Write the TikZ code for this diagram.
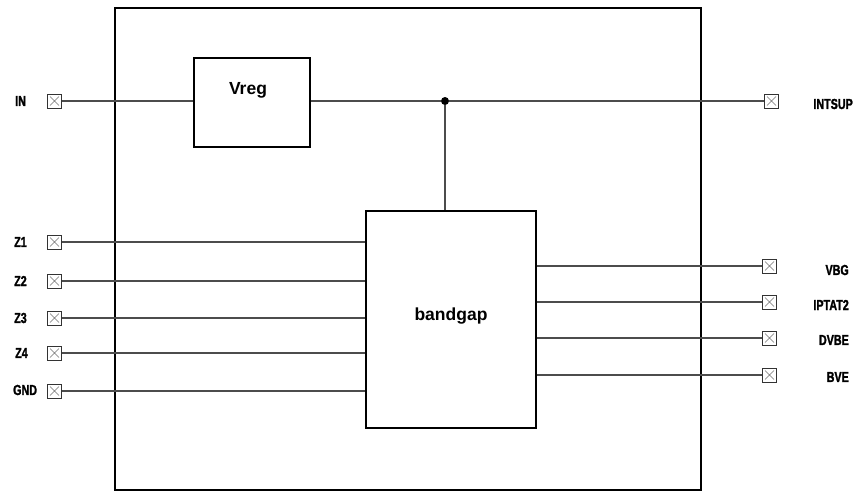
\documentclass[tikz,border=0pt]{standalone}
\usepackage{fontspec}
\setmainfont{Liberation Sans}
\newfontfamily\pinfont{Liberation Sans}[FakeStretch=0.74, BoldFeatures={FakeBold=1.6}]
\begin{document}
\begin{tikzpicture}[x=1pt,y=-1pt,
  wire/.style={draw=black!70, line width=1.1pt},
  blockbox/.style={draw=black, line width=1.1pt, fill=white, inner sep=0pt},
  pinbox/.style={draw=black!80, line width=0.9pt, fill=white, minimum size=14pt, inner sep=0pt,
    path picture={\draw[black!55, line width=0.5pt]
      ([shift={(2.5pt,-2.5pt)}]path picture bounding box.north west) -- ([shift={(-2.5pt,2.5pt)}]path picture bounding box.south east)
      ([shift={(-2.5pt,-2.5pt)}]path picture bounding box.north east) -- ([shift={(2.5pt,2.5pt)}]path picture bounding box.south west);}},
  pinlabel/.style={font=\pinfont\bfseries\fontsize{14.5}{16}\selectfont, inner sep=0pt},
  blocklabel/.style={font=\bfseries\fontsize{17.5}{20}\selectfont, inner sep=0pt}]
\useasboundingbox (0,0) rectangle (857,491);
\fill[white] (0,0) rectangle (857,491);

% chip outline
\draw[black, line width=2pt] (115,8) rectangle (701,490);

% blocks
\node[blockbox, minimum width=116pt, minimum height=89pt] (vreg) at (252,102.5) {};
\node[blocklabel] (vregtxt) at (248,90) {Vreg};
\node[blockbox, minimum width=170pt, minimum height=217pt] (bg) at (451,319.5) {};
\node[blocklabel] (bgtxt) at (451,316) {bandgap};

% left pins
\node[pinbox] (pIN)  at (54.5,101) {};
\node[pinbox] (pZ1)  at (54.5,242) {};
\node[pinbox] (pZ2)  at (54.5,281) {};
\node[pinbox] (pZ3)  at (54.5,318) {};
\node[pinbox] (pZ4)  at (54.5,353) {};
\node[pinbox] (pGND) at (54.5,391) {};

\node[pinlabel, anchor=west] (lIN)  at (15,101) {IN};
\node[pinlabel, anchor=west] (lZ1)  at (14,242) {Z1};
\node[pinlabel, anchor=west] (lZ2)  at (14,281) {Z2};
\node[pinlabel, anchor=west] (lZ3)  at (14,318) {Z3};
\node[pinlabel, anchor=west] (lZ4)  at (15,353) {Z4};
\node[pinlabel, anchor=west] (lGND) at (13,390) {GND};

% right pins
\node[pinbox] (pINTSUP) at (771.5,101) {};
\node[pinbox] (pVBG)    at (769.5,266) {};
\node[pinbox] (pIPTAT)  at (769.5,302) {};
\node[pinbox] (pDVBE)   at (769.5,338) {};
\node[pinbox] (pBVE)    at (769.5,375) {};

\node[pinlabel, anchor=east] (lINTSUP) at (853,104) {INTSUP};
\node[pinlabel, anchor=east] (lVBG)    at (849,270) {VBG};
\node[pinlabel, anchor=east] (lIPTAT)  at (849,305) {IPTAT2};
\node[pinlabel, anchor=east] (lDVBE)   at (849,340) {DVBE};
\node[pinlabel, anchor=east] (lBVE)    at (849,377) {BVE};

% supply net
\node[circle, fill=black, inner sep=0pt, minimum size=8pt] (dot) at (445,101) {};
\draw[wire] (pIN.east) -- (vreg.west |- pIN);
\draw[wire] (vreg.east |- pIN) -- (dot) -- (pINTSUP.west);
\draw[wire] (dot) -- (dot |- bg.north);

% bandgap inputs
\foreach \p in {pZ1,pZ2,pZ3,pZ4,pGND}
  \draw[wire] (\p.east) -- (bg.west |- \p);

% bandgap outputs
\foreach \p in {pVBG,pIPTAT,pDVBE,pBVE}
  \draw[wire] (bg.east |- \p) -- (\p.west);
\end{tikzpicture}
\end{document}
